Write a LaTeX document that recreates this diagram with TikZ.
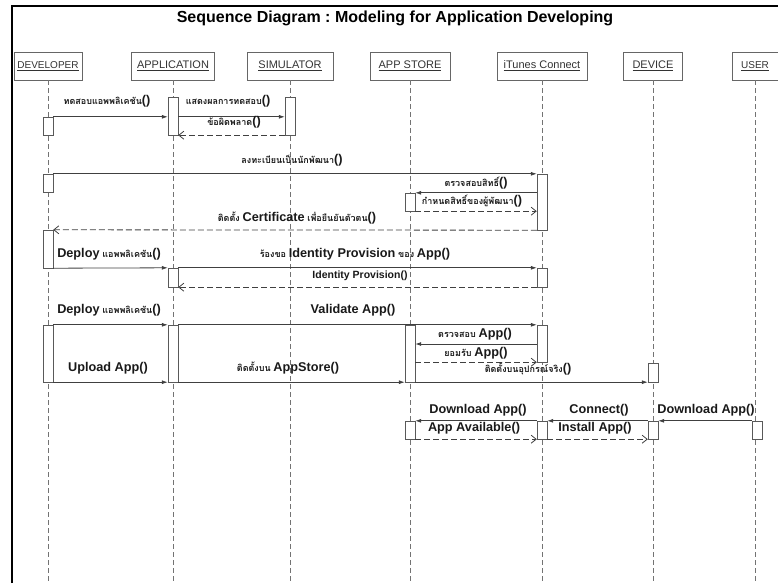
\documentclass[tikz,border=0pt]{standalone}
\usepackage{fontspec}
\setmainfont{Liberation Sans}
\newfontfamily\thaifont[Script=Thai]{Loma}
\usetikzlibrary{arrows.meta}
\frenchspacing
\newcommand\thtxt[1]{{\thaifont\fontsize{9}{10}\selectfont\bfseries #1}}
\newcommand\lat[1]{{\fontsize{12.7}{14}\selectfont\bfseries #1}}
\def\act(#1)(#2:#3:#4){\node[act, minimum height={#4-#3}] (#1) at (#2,{(#3+#4)/2}) {};}

\begin{document}
\begin{tikzpicture}[x=1pt, y=-1pt,
	head/.style={draw=black!60, fill=white, minimum height=28, inner sep=0, text=black!80, font=\fontsize{11}{12}\selectfont},
	act/.style={draw=black!65, fill=white, minimum width=10, inner sep=0},
	life/.style={black!55, line width=0.8pt, dash pattern=on 5pt off 3pt},
	call/.style={black!75, line width=0.8pt, -{Latex[length=6pt,width=4pt]}},
	ret/.style={black!75, line width=0.8pt, dash pattern=on 6pt off 3pt, -{Straight Barb[length=5pt,width=8pt]}},
	lbl/.style={inner sep=0, text=black!90}]
		%%%%% START %%%%%
		\useasboundingbox (0,0) rectangle (778,583);
		\draw[line width=2.5pt] (12,583) -- (12,6) -- (778,6);
		\node[font=\fontsize{16}{18}\selectfont\bfseries] (title) at (395,18) {Sequence Diagram : Modeling for Application Developing};
		
		% lifeline heads
		\node[head, minimum width=68, font=\fontsize{10}{12}\selectfont] (dev) at (48,66) {\underline{DEVELOPER}};
		\node[head, minimum width=83] (app) at (173,66) {\underline{APPLICATION}};
		\node[head, minimum width=86] (sim) at (290,66) {\underline{SIMULATOR}};
		\node[head, minimum width=80] (store) at (410,66) {\underline{APP STORE}};
		\node[head, minimum width=90] (itc) at (542,66) {\underline{iTunes Connect}};
		\node[head, minimum width=59] (dvc) at (653,66) {\underline{DEVICE}};
		\node[head, minimum width=46, font=\fontsize{10}{12}\selectfont] (usr) at (755,66) {\underline{USER}};
		
		\coordinate (bot) at (0,583);
		\foreach \n in {dev,app,sim,store,itc,dvc,usr}
			\draw[life] (\n.south) -- (\n.south |- bot);
		
		% activations
		\act(d1)(48:117:135)
		\act(a1)(173:97:135)
		\act(s1)(290:97:135)
		
		\act(d2)(48:174:192)
		\act(i1)(542:174:230)
		\act(st1)(410:193:211)
		
		\act(d3)(48:230:268)
		\act(a2)(173:268:287)
		\act(i2)(542:268:287)
		
		\act(d4)(48:325:382)
		\act(a3)(173:325:382)
		\act(st2)(410:325:382)
		\act(i3)(542:325:362)
		\act(v1)(653:363:382)
		
		\act(st3)(410:421:439)
		\act(i4)(542:421:439)
		\act(v2)(653:421:439)
		\act(u1)(757:421:439)
		
		% messages
		\draw[call] (d1.north east) -- (a1.west |- d1.north);
		\draw[call] (a1.east |- d1.north) -- (s1.west |- d1.north);
		\draw[ret] (s1.south west) -- (a1.south east);
		
		\draw[call] (d2.north east) -- (i1.north west);
		\draw[call] (i1.west |- st1.north) -- (st1.north east);
		\draw[ret] (st1.south east) -- (i1.west |- st1.south);
		\draw[ret] (i1.south west) -- (d3.north east);
		
		\draw[call] (d3.south east) -- (a2.north west);
		\draw[call] (a2.north east) -- (i2.north west);
		\draw[ret] (i2.south west) -- (a2.south east);
		
		\coordinate (chk) at (0,344);
		\draw[call] (d4.north east) -- (a3.north west);
		\draw[call] (a3.north east) -- (i3.north west);
		\draw[call] (i3.west |- chk) -- (st2.east |- chk);
		\draw[ret] (st2.east |- i3.south) -- (i3.south west);
		\draw[call] (d4.south east) -- (a3.south west);
		\draw[call] (a3.south east) -- (st2.south west);
		\draw[call] (st2.south east) -- (v1.south west);
		
		\draw[call] (u1.north west) -- (v2.north east);
		\draw[call] (v2.north west) -- (i4.north east);
		\draw[call] (i4.north west) -- (st3.north east);
		\draw[ret] (st3.south east) -- (i4.south west);
		\draw[ret] (i4.south east) -- (v2.south west);
		
		% labels
		\node[lbl] (t1) at (107,101) {\thtxt{ทดสอบแอพพลิเคชัน}\lat{()}};
		\node[lbl] (t2) at (228,101) {\thtxt{แสดงผลการทดสอบ}\lat{()}};
		\node[lbl] (t3) at (234,122) {\thtxt{ข้อผิดพลาด}\lat{()}};
		\node[lbl] (t4) at (292,160) {\thtxt{ลงทะเบียนเป็นนักพัฒนา}\lat{()}};
		\node[lbl] (t5) at (476,183) {\thtxt{ตรวจสอบสิทธิ์}\lat{()}};
		\node[lbl] (t6) at (472,201) {\thtxt{กำหนดสิทธิ์ของผู้พัฒนา}\lat{()}};
		\node[lbl] (t7) at (297,218) {\thtxt{ติดตั้ง} \lat{Certificate} \thtxt{เพื่อยืนยันตัวตน}\lat{()}};
		\node[lbl] (t8) at (109,254) {\lat{Deploy} \thtxt{แอพพลิเคชัน}\lat{()}};
		\node[lbl] (t9) at (355,254) {\thtxt{ร้องขอ} \lat{Identity Provision} \thtxt{ของ} \lat{App()}};
		\node[lbl, font=\fontsize{10.5}{12}\selectfont\bfseries] (t10) at (360,276) {Identity Provision()};
		\node[lbl] (t11) at (109,310) {\lat{Deploy} \thtxt{แอพพลิเคชัน}\lat{()}};
		\node[lbl] (t12) at (353,310) {\lat{Validate App()}};
		\node[lbl] (t13) at (475,334) {\thtxt{ตรวจสอบ} \lat{App()}};
		\node[lbl] (t14) at (476,353) {\thtxt{ยอมรับ} \lat{App()}};
		\node[lbl] (t15) at (528,369) {\thtxt{ติดตั้งบนอุปกรณ์จริง}\lat{()}};
		\node[lbl] (t16) at (108,368) {\lat{Upload App()}};
		\node[lbl] (t17) at (288,368) {\thtxt{ติดตั้งบน} \lat{AppStore()}};
		\node[lbl] (t18) at (478,410) {\lat{Download App()}};
		\node[lbl] (t19) at (599,410) {\lat{Connect()}};
		\node[lbl] (t20) at (706,410) {\lat{Download App()}};
		\node[lbl] (t21) at (474,428) {\lat{App Available()}};
		\node[lbl] (t22) at (595,428) {\lat{Install App()}};
		%%%%% END %%%%%
\end{tikzpicture}
\end{document}
